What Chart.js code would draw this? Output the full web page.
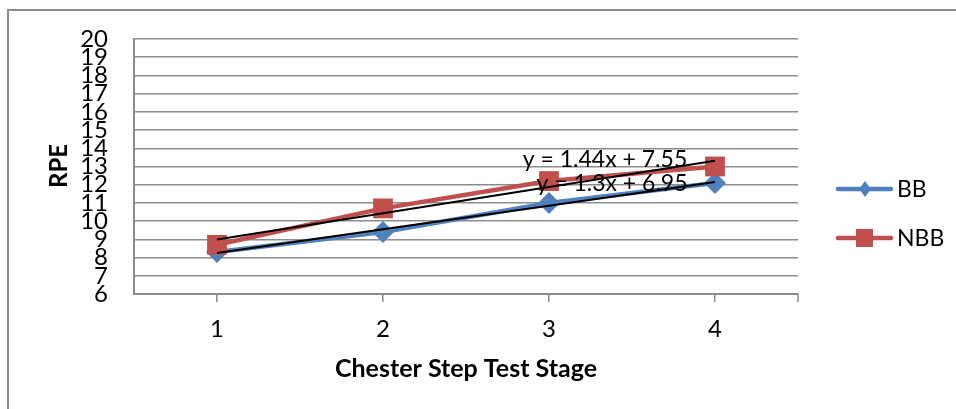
<!DOCTYPE html>
<html lang="en">
<head>
  <meta charset="UTF-8" />
  <title>RPE by Chester Step Test Stage</title>
  <script src="https://cdn.jsdelivr.net/npm/chart.js"></script>
  <style>
    * { box-sizing: border-box; }
    body { margin: 0; padding: 0; background: #fff; }
    #wrap { width: 956px; height: 409px; position: relative; }
  </style>
</head>
<body>
  <div id="wrap"><canvas id="chart"></canvas></div>

  <script>
    // data
    const stages = ['1', '2', '3', '4'];
    const bb = [8.3, 9.4, 11.0, 12.1];
    const nbb = [8.7, 10.7, 12.2, 13.0];
    // linear trendlines as shown (y = 1.3x + 6.95, y = 1.44x + 7.55)
    const bbTrend = [8.25, 9.55, 10.85, 12.15];
    const nbbTrend = [8.99, 10.43, 11.87, 13.31];
    const trendLabels = ['y = 1.44x + 7.55', 'y = 1.3x + 6.95'];
    const seriesNames = ['BB', 'NBB'];

    const BLUE = '#4F81BD';
    const RED = '#C0504D';
    const GRID = '#8c8c8c';
    const FONT = 'Lato, "Open Sans", sans-serif';

    // titles, legend, trendline equations and the outer frame
    const extras = {
      id: 'extras',
      afterDraw(chart) {
        const ctx = chart.ctx;
        const area = chart.chartArea;
        ctx.save();

        // outer frame (top and left edges are the only ones in view)
        ctx.strokeStyle = '#8a8a8a';
        ctx.lineWidth = 2;
        ctx.beginPath();
        ctx.moveTo(8, 409);
        ctx.lineTo(8, 10);
        ctx.lineTo(956, 10);
        ctx.stroke();

        // closing tick at the right end of the category axis
        ctx.strokeStyle = GRID;
        ctx.lineWidth = 1.5;
        ctx.beginPath();
        ctx.moveTo(area.right, area.bottom);
        ctx.lineTo(area.right, area.bottom + 8);
        ctx.stroke();

        ctx.fillStyle = '#000';
        ctx.textAlign = 'center';
        ctx.textBaseline = 'middle';

        // axis titles
        ctx.font = 'bold 25px ' + FONT;
        ctx.fillText('Chester Step Test Stage', 466, 369);
        ctx.save();
        ctx.translate(59, 166);
        ctx.rotate(-Math.PI / 2);
        ctx.font = 'bold 24px ' + FONT;
        ctx.fillText('RPE', 0, 0);
        ctx.restore();

        // trendline equations
        ctx.font = '23px ' + FONT;
        ctx.fillText(trendLabels[0], 605, 160);
        ctx.fillText(trendLabels[1], 612, 184);

        // legend
        const rows = [
          { name: seriesNames[0], color: BLUE, y: 189, shape: 'diamond' },
          { name: seriesNames[1], color: RED, y: 238, shape: 'square' }
        ];
        rows.forEach(r => {
          ctx.strokeStyle = r.color;
          ctx.lineWidth = 4.5;
          ctx.lineCap = 'round';
          ctx.beginPath();
          ctx.moveTo(838, r.y);
          ctx.lineTo(891, r.y);
          ctx.stroke();
          ctx.fillStyle = r.color;
          ctx.beginPath();
          if (r.shape === 'diamond') {
            ctx.moveTo(865, r.y - 8);
            ctx.lineTo(871, r.y);
            ctx.lineTo(865, r.y + 8);
            ctx.lineTo(859, r.y);
            ctx.closePath();
          } else {
            ctx.rect(856, r.y - 9, 17, 18);
          }
          ctx.fill();
          ctx.fillStyle = '#000';
          ctx.textAlign = 'left';
          ctx.font = '23px ' + FONT;
          ctx.fillText(r.name, 897, r.y + 1);
        });

        ctx.restore();
      }
    };

    new Chart(document.getElementById('chart'), {
      type: 'line',
      data: {
        labels: stages,
        datasets: [
          {
            label: seriesNames[0],
            data: bb,
            borderColor: BLUE,
            backgroundColor: BLUE,
            borderWidth: 4.5,
            pointStyle: 'rectRot',
            pointRadius: 11,
            pointBorderWidth: 0,
            tension: 0,
            order: 3
          },
          {
            label: seriesNames[1],
            data: nbb,
            borderColor: RED,
            backgroundColor: RED,
            borderWidth: 4.5,
            pointStyle: 'rect',
            pointRadius: 14,
            pointBorderWidth: 0,
            tension: 0,
            order: 2
          },
          {
            label: 'BB trend',
            data: bbTrend,
            borderColor: '#000',
            borderWidth: 2,
            pointRadius: 0,
            order: 1
          },
          {
            label: 'NBB trend',
            data: nbbTrend,
            borderColor: '#000',
            borderWidth: 2,
            pointRadius: 0,
            order: 1
          }
        ]
      },
      options: {
        responsive: true,
        maintainAspectRatio: false,
        animation: false,
        layout: { padding: { left: 0, top: 39, right: 158, bottom: 0 } },
        plugins: {
          legend: { display: false },
          tooltip: { enabled: false }
        },
        scales: {
          x: {
            offset: true,
            afterFit(scale) { scale.height = 115; },
            grid: {
              drawOnChartArea: false,
              drawTicks: true,
              tickLength: 8,
              color: GRID,
              lineWidth: 1.5
            },
            border: { display: true, color: GRID, width: 2 },
            ticks: {
              color: '#000',
              padding: 13,
              font: { family: FONT, size: 24 }
            }
          },
          y: {
            min: 6,
            max: 20,
            afterFit(scale) { scale.width = 134; },
            grid: {
              color: GRID,
              lineWidth: 1.5,
              drawTicks: false
            },
            border: { display: true, color: GRID, width: 2 },
            ticks: {
              stepSize: 1,
              autoSkip: false,
              color: '#000',
              padding: 26,
              font: { family: FONT, size: 24, lineHeight: 1 }
            }
          }
        }
      },
      plugins: [extras]
    });
  </script>
</body>
</html>
